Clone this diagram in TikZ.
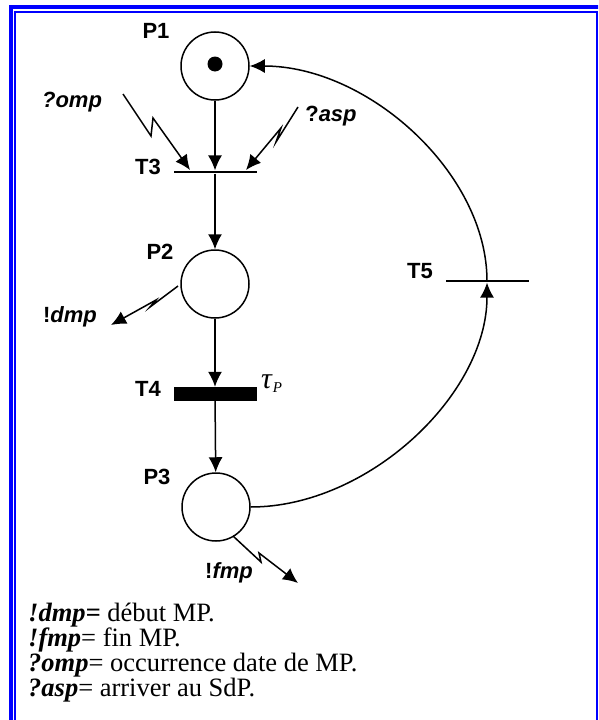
\documentclass[tikz,border=0pt]{standalone}
\usepackage{fontspec}
\setmainfont{Liberation Serif}
\setsansfont{Liberation Sans}
\usetikzlibrary{arrows.meta}
\begin{document}
\begin{tikzpicture}[x=1pt,y=-1pt,
  place/.style={circle,draw,line width=1.5pt,minimum size=68pt,inner sep=0pt},
  bar/.style={fill=black,inner sep=0pt,minimum width=83pt,minimum height=2.8pt},
  thickbar/.style={fill=black,inner sep=0pt,minimum width=83pt,minimum height=14pt},
  lab/.style={font=\fontsize{22}{23}\selectfont\sffamily\bfseries,inner sep=0pt},
  arc/.style={line width=1.5pt,-{Latex[length=15pt,width=14pt]}},
  leg/.style={anchor=base west,font=\fontsize{26.5}{27}\selectfont,inner sep=0pt}
]
\useasboundingbox (0,0) rectangle (598,720);
\begin{scope}
\clip (0,0) rectangle (598,720);
\draw[blue,line width=4pt] (10.5,760) -- (10.5,7) -- (640,7);
\draw[blue,line width=2pt] (15,760) -- (15,12) -- (597,12) -- (597,760);
\end{scope}
% places and transitions
\node[place] (P1) at (215,66) {};
\node[circle,fill,minimum size=15pt,inner sep=0pt] (tok) at (215,64) {};
\node[bar] (T3) at (215,172) {};
\node[place] (P2) at (215,284) {};
\node[thickbar] (T4) at (215,394) {};
\node[place] (P3) at (216,507) {};
\node[bar] (T5) at (487,281) {};
% labels
\node[lab] (lP1) at (156,31) {P1};
\node[lab] (lT3) at (148,167) {T3};
\node[lab] (lP2) at (160,252) {P2};
\node[lab] (lT4) at (148,389) {T4};
\node[lab] (lP3) at (157,477) {P3};
\node[lab] (lT5) at (420,271) {T5};
\node[lab] (lomp) at (72,102) {\itshape ?omp};
\node[lab] (lasp) at (331,116) {?\itshape asp};
\node[lab] (ldmp) at (70,317) {!\itshape dmp};
\node[lab] (lfmp) at (229,573) {!\itshape fmp};
\node[anchor=base west,inner sep=0pt] (tau) at (261,388) {\fontsize{30}{30}\selectfont\itshape τ\kern1pt\raisebox{-4pt}{\fontsize{15}{15}\selectfont P}};
% arcs
\draw[arc] (P1) -- (T3.north);
\draw[arc] (T3) -- (P2);
\draw[arc] (P2) -- (T4.north);
\draw[arc] (T4) -- (P3);
\draw[arc] (P3.east) .. controls (368,507) and (487,395) .. (T5.south);
\draw[arc] (T5.center) .. controls (487,173) and (368,66) .. (P1.east);
% lightning signals
\coordinate (ompS) at (123,94);
\coordinate (ompE) at (190,170);
\coordinate (aspS) at (298,107);
\coordinate (aspE) at (246,170);
\coordinate (dmpS) at (178,286);
\coordinate (dmpE) at (111,325);
\coordinate (fmpS) at (233,536);
\coordinate (fmpE) at (298,583);
\draw[arc] (ompS) -- (151,136) -- (153,118) -- (ompE);
\draw[arc] (aspS) -- (276,142) -- (281,128) -- (aspE);
\draw[arc] (dmpS) -- (150,307) -- (156,300) -- (dmpE);
\draw[arc] (fmpS) -- (261,562) -- (259,553) -- (fmpE);
% legend
\node[leg] (L1) at (28,621) {\textbf{\textit{!dmp=}} début MP.};
\node[leg] (L2) at (28,646) {\textbf{\textit{!fmp}}= fin MP.};
\node[leg] (L3) at (28,671) {\textbf{\textit{?omp}}= occurrence date de MP.};
\node[leg] (L4) at (28,696) {\textbf{\textit{?asp}}= arriver au SdP.};
\end{tikzpicture}
\end{document}
